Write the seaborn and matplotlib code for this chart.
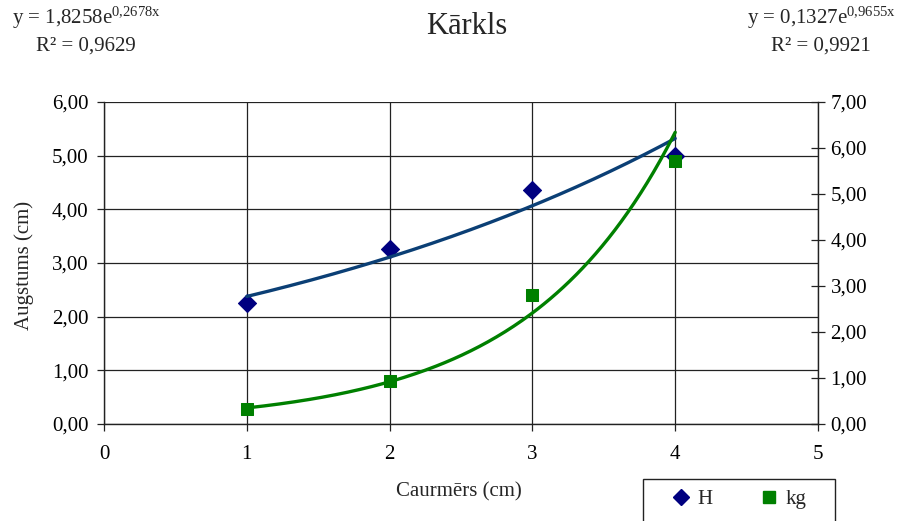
import numpy as np
import pandas as pd
import matplotlib
matplotlib.use("Agg")
import matplotlib.pyplot as plt
import seaborn as sns
from matplotlib.lines import Line2D
from matplotlib.patches import Rectangle
from matplotlib.ticker import FuncFormatter, MultipleLocator

# values
caurmers = [1, 2, 3, 4]                 # x, cm
augstums = [2.25, 3.26, 4.36, 5.00]     # H, left axis
svars = [0.33, 0.93, 2.80, 5.72]        # kg, right axis

title = "Kārkls"
eq_h = r"y = 1,8258e$^{\mathrm{0{,}2678x}}$"
r2_h = "R² = 0,9629"
eq_kg = r"y = 0,1327e$^{\mathrm{0{,}9655x}}$"
r2_kg = "R² = 0,9921"

df = pd.DataFrame({"x": caurmers, "H": augstums, "kg": svars})

#%%
sns.set_style("ticks")
plt.rcParams["font.family"] = ["Liberation Serif", "DejaVu Serif"]
plt.rcParams["mathtext.fontset"] = "custom"
plt.rcParams["mathtext.rm"] = "Liberation Serif"
plt.rcParams["mathtext.it"] = "Liberation Serif:italic"

blue_pt = "#000080"
blue_ln = "#0B3F75"
green = "#008000"

W, H = 909, 521
fig = plt.figure(figsize=(W / 100, H / 100), dpi=100)
ax = fig.add_axes([104 / W, 1 - 424 / H, 714 / W, 322 / H])
ax2 = ax.twinx()

# exponential trendlines (Excel style), fitted from the points
xs = np.linspace(1, 4, 200)
bh, ah = np.polyfit(df["x"], np.log(df["H"]), 1)
bk, ak = np.polyfit(df["x"], np.log(df["kg"]), 1)
trend = pd.DataFrame({"x": xs, "H": np.exp(ah) * np.exp(bh * xs),
                      "kg": np.exp(ak) * np.exp(bk * xs)})

sns.scatterplot(data=df, x="x", y="H", ax=ax, marker="D", s=85,
                color=blue_pt, edgecolor=blue_pt, zorder=3)
sns.lineplot(data=trend, x="x", y="H", ax=ax, color=blue_ln, lw=2.4, zorder=4)
sns.scatterplot(data=df, x="x", y="kg", ax=ax2, marker="s", s=85,
                color=green, edgecolor=green, zorder=3)
sns.lineplot(data=trend, x="x", y="kg", ax=ax2, color=green, lw=2.4, zorder=4)

ax.set_xlim(0, 5)
ax.set_ylim(0, 6)
ax2.set_ylim(0, 7)
ax.xaxis.set_major_locator(MultipleLocator(1))
ax.yaxis.set_major_locator(MultipleLocator(1))
ax2.yaxis.set_major_locator(MultipleLocator(1))
fmt = FuncFormatter(lambda v, p: f"{v:.2f}".replace(".", ","))
ax.yaxis.set_major_formatter(fmt)
ax2.yaxis.set_major_formatter(fmt)

ax.grid(True, color="#222222", lw=0.9)
ax.set_axisbelow(True)
for a in (ax, ax2):
    a.set_xlabel("")
    a.set_ylabel("")
    a.spines["top"].set_visible(False)
    for s in a.spines.values():
        s.set_color("#222222")
        s.set_linewidth(1.0)
ax.spines["right"].set_visible(False)
ax2.spines["left"].set_visible(False)
ax2.spines["bottom"].set_visible(False)

ax.tick_params(axis="both", direction="out", length=5, width=0.9,
               labelsize=15, colors="#222222", labelcolor="black")
ax.tick_params(axis="y", pad=6)
ax.tick_params(axis="x", pad=10)
ax2.tick_params(axis="y", direction="inout", length=10, width=0.9,
                labelsize=15, pad=4, colors="#222222", labelcolor="black")

fig.text(24 / W, 1 - 265 / H, "Augstums (cm)", rotation=90, ha="center",
         va="center", fontsize=15)
fig.text(459 / W, 1 - 492 / H, "Caurmērs (cm)", ha="center", va="center",
         fontsize=15)

fig.text(467 / W, 1 - 27 / H, title, ha="center", va="center", fontsize=22)
fig.text(12 / W, 1 - 18 / H, eq_h, ha="left", va="center", fontsize=15)
fig.text(36 / W, 1 - 46 / H, r2_h, ha="left", va="center", fontsize=15)
fig.text(747 / W, 1 - 18 / H, eq_kg, ha="left", va="center", fontsize=15)
fig.text(771 / W, 1 - 46 / H, r2_kg, ha="left", va="center", fontsize=15)

# legend box runs off the bottom edge, as in the original
fig.add_artist(Rectangle((643 / W, -0.1), 192 / W, 0.1 + 1 - 479 / H,
                         transform=fig.transFigure, fill=False,
                         ec="#222222", lw=1.0))
handles = [Line2D([], [], ls="", marker="D", ms=8, color=blue_pt),
           Line2D([], [], ls="", marker="s", ms=8, color=green)]
fig.legend(handles, ["H", "kg"], loc="center left", ncol=2,
           bbox_to_anchor=(662 / W, 1 - 499 / H), fontsize=15,
           frameon=False, handlelength=1.0, handletextpad=0.3,
           columnspacing=2.2, borderaxespad=0)

fig.savefig("out.png", dpi=100)
